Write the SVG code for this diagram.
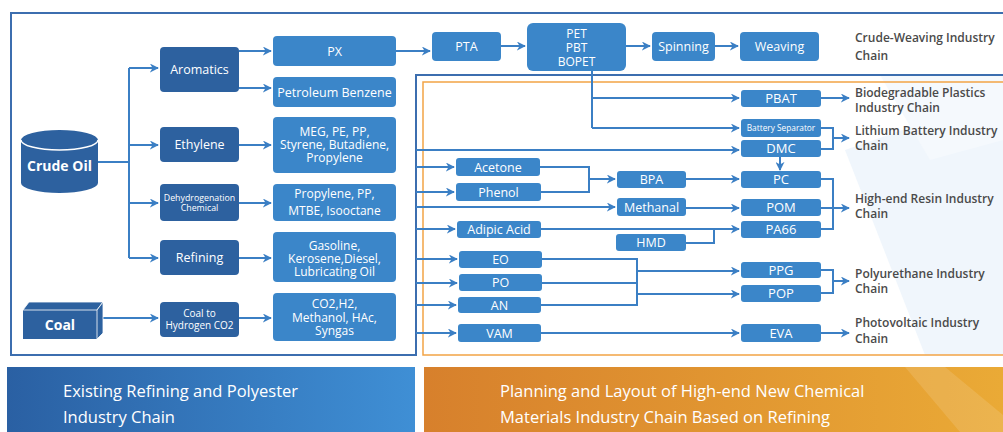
<svg xmlns="http://www.w3.org/2000/svg" width="1003" height="432" viewBox="0 0 1003 432">
<defs>
<marker id="ah" viewBox="0 0 10 10" refX="9" refY="5" markerWidth="9" markerHeight="9" markerUnits="userSpaceOnUse" orient="auto"><path d="M0,0 L10,5 L0,10 L3,5 z" fill="#3b7fc4"/></marker>
<linearGradient id="gb" x1="0" y1="0" x2="1" y2="0"><stop offset="0" stop-color="#2a60a3"/><stop offset="1" stop-color="#3f8fd5"/></linearGradient>
<linearGradient id="go" x1="0" y1="0" x2="1" y2="0"><stop offset="0" stop-color="#d7802c"/><stop offset="1" stop-color="#eaaa36"/></linearGradient>
<style>
.dk{fill:#2d619f}
.lt{fill:#3b86c9}
.t{font-family:"Open Sans","Noto Sans",sans-serif;fill:#fff;text-anchor:middle;font-size:12.5px}
.tm{font-family:"Open Sans","Noto Sans",sans-serif;fill:#fff;text-anchor:middle;font-size:12px}
.ts{font-family:"Open Sans","Noto Sans",sans-serif;fill:#fff;text-anchor:middle;font-size:8.8px}
.tb{font-family:"Open Sans","Noto Sans",sans-serif;fill:#fff;text-anchor:middle;font-size:14px;font-weight:bold}
.lb{font-family:"Open Sans","Noto Sans",sans-serif;fill:#4a4a4a;font-size:12px;font-weight:600}
.bt{font-family:"Open Sans","Noto Sans",sans-serif;fill:#fff;font-size:16.5px}
.c{fill:none;stroke:#3b7fc4;stroke-width:2}
.a{marker-end:url(#ah)}
</style>
</defs>
<rect width="1003" height="432" fill="#fff"/>
<polygon points="845,150 1003,95 1003,355 925,355" fill="#f0f6fc"/>
<polygon points="880,75 1003,75 1003,140 930,160" fill="#f5f9fd"/>

<g id="borders">
<path d="M1003,13 H11 V355 H416 V75 H1003" fill="none" stroke="#3c6eaf" stroke-width="2"/>
<path d="M1003,82 H423 V355 H1003" fill="none" stroke="#f2a446" stroke-width="1.5"/>
</g>

<g id="connectors">
<path class="c" d="M98,162 H129 M129,68 V258"/>
<path class="c a" d="M129,68 H158"/>
<path class="c a" d="M129,145 H158"/>
<path class="c a" d="M129,203 H158"/>
<path class="c a" d="M129,258 H158"/>
<path class="c a" d="M239,51 H271"/>
<path class="c a" d="M239,88 H271"/>
<path class="c a" d="M239,145 H271"/>
<path class="c a" d="M239,203 H271"/>
<path class="c a" d="M239,258 H271"/>
<path class="c a" d="M103,318 H158"/>
<path class="c a" d="M239,318 H271"/>
<path class="c a" d="M396,51 H430"/>
<path class="c a" d="M501,46 H525"/>
<path class="c a" d="M626,46 H650"/>
<path class="c a" d="M715,46 H738"/>
<path class="c" d="M592,71 V128"/>
<path class="c a" d="M592,98 H739"/>
<path class="c a" d="M592,128 H739"/>
<path class="c a" d="M416,150 H739"/>
<path class="c a" d="M416,167 H454"/>
<path class="c a" d="M416,192 H454"/>
<path class="c a" d="M416,207 H615"/>
<path class="c a" d="M416,229 H455"/>
<path class="c a" d="M416,259 H457"/>
<path class="c a" d="M416,283 H457"/>
<path class="c a" d="M416,305 H456"/>
<path class="c a" d="M416,333 H456"/>
<path class="c" d="M540,167 H589 V192 H541"/>
<path class="c a" d="M589,179 H615"/>
<path class="c a" d="M686,179 H739"/>
<path class="c a" d="M686,208 H739"/>
<path class="c a" d="M541,229 H739"/>
<path class="c" d="M686,243 H714 V229"/>
<path class="c" d="M542,259 H637 V305 H541 M542,283 H637"/>
<path class="c a" d="M637,271 H739"/>
<path class="c a" d="M637,294 H739"/>
<path class="c a" d="M541,333 H739"/>
<path class="c a" d="M780,157 V170"/>
<path class="c a" d="M821,98 H849"/>
<path class="c" d="M821,128 H833 V149 H821"/>
<path class="c a" d="M833,138 H849"/>
<path class="c" d="M821,179 H833 V229 H821"/>
<path class="c a" d="M821,208 H849"/>
<path class="c" d="M821,270 H833 V293 H821"/>
<path class="c a" d="M833,281 H849"/>
<path class="c a" d="M821,333 H849"/>
</g>

<g id="crude-oil">
<path class="dk" d="M21,140 A38.5,10 0 0 1 98,140 L98,183 A38.5,10 0 0 1 21,183 Z"/>
<path d="M21,140 A38.5,10 0 0 0 98,140" fill="none" stroke="#fff" stroke-width="1.5"/>
<text class="tb" x="59.5" y="171">Crude Oil</text>
</g>
<g id="coal">
<rect class="dk" x="23" y="310" width="74" height="29"/>
<polygon class="dk" points="23,310 29,302 103,302 97,310" stroke="#fff" stroke-width="0.8"/>
<polygon class="dk" points="97,310 103,302 103,333 97,339" stroke="#fff" stroke-width="0.8"/>
<text class="tb" x="60" y="330">Coal</text>
</g>

<g id="aromatics"><rect class="dk" x="160" y="47" width="79" height="45" rx="4"/><text class="t" x="199.5" y="74">Aromatics</text></g>
<g id="ethylene"><rect class="dk" x="160" y="127" width="79" height="35" rx="4"/><text class="t" x="199.5" y="149">Ethylene</text></g>
<g id="dehydrogenation"><rect class="dk" x="160" y="184" width="79" height="37" rx="4"/><text class="ts" x="199.5" y="201">Dehydrogenation</text><text class="ts" x="199.5" y="211">Chemical</text></g>
<g id="coal-to-hydrogen"><rect class="dk" x="160" y="302" width="79" height="35" rx="4"/><text class="ts" x="199.5" y="316.5" style="font-size:10px">Coal to</text><text class="ts" x="199.5" y="328.5" style="font-size:10px">Hydrogen  CO2</text></g>
<g id="refining"><rect class="dk" x="160" y="240" width="79" height="35" rx="4"/><text class="t" x="199.5" y="262">Refining</text></g>

<g id="px"><rect class="lt" x="273" y="36" width="123" height="30" rx="4"/><text class="t" x="334.5" y="55.5">PX</text></g>
<g id="petroleum-benzene"><rect class="lt" x="273" y="77" width="123" height="30" rx="4"/><text class="t" x="334.5" y="96.5">Petroleum Benzene</text></g>
<g id="meg"><rect class="lt" x="273" y="117" width="123" height="56" rx="4"/><text class="tm" x="334.5" y="136">MEG, PE, PP,</text><text class="tm" x="334.5" y="149">Styrene, Butadiene,</text><text class="tm" x="334.5" y="162">Propylene</text></g>
<g id="propylene"><rect class="lt" x="273" y="184" width="123" height="37" rx="4"/><text class="tm" x="334.5" y="197.5">Propylene, PP,</text><text class="tm" x="334.5" y="214.5">MTBE, Isooctane</text></g>
<g id="gasoline"><rect class="lt" x="273" y="232" width="123" height="50" rx="4"/><text class="tm" x="334.5" y="250">Gasoline,</text><text class="tm" x="334.5" y="263">Kerosene,Diesel,</text><text class="tm" x="334.5" y="276">Lubricating Oil</text></g>
<g id="co2"><rect class="lt" x="273" y="293" width="123" height="48" rx="4"/><text class="tm" x="334.5" y="308">CO2,H2,</text><text class="tm" x="334.5" y="321.5">Methanol, HAc,</text><text class="tm" x="334.5" y="335">Syngas</text></g>

<g id="pta"><rect class="lt" x="432" y="32" width="69" height="29" rx="4"/><text class="t" x="466.5" y="51">PTA</text></g>
<g id="pet"><rect class="lt" x="527" y="23" width="99" height="48" rx="6"/><text class="tm" x="576.5" y="37.5">PET</text><text class="tm" x="576.5" y="52">PBT</text><text class="tm" x="576.5" y="66">BOPET</text></g>
<g id="spinning"><rect class="lt" x="652" y="32" width="63" height="29" rx="4"/><text class="t" x="683.5" y="51">Spinning</text></g>
<g id="weaving"><rect class="lt" x="740" y="32" width="79" height="29" rx="4"/><text class="t" x="779.5" y="51">Weaving</text></g>

<g id="pbat"><rect class="lt" x="741" y="90" width="80" height="17" rx="3"/><text class="t" x="781" y="103" style="font-size:13px">PBAT</text></g>
<g id="battery-separator"><rect class="lt" x="741" y="119" width="80" height="18" rx="3"/><text class="ts" x="781" y="131" style="font-size:8.3px">Battery Separator</text></g>
<g id="dmc"><rect class="lt" x="741" y="140" width="80" height="17" rx="3"/><text class="t" x="781" y="153" style="font-size:13px">DMC</text></g>
<g id="pc"><rect class="lt" x="741" y="171" width="80" height="17" rx="3"/><text class="t" x="781" y="184" style="font-size:13px">PC</text></g>
<g id="pom"><rect class="lt" x="741" y="199" width="80" height="17" rx="3"/><text class="t" x="781" y="212" style="font-size:13px">POM</text></g>
<g id="pa66"><rect class="lt" x="741" y="221" width="80" height="17" rx="3"/><text class="t" x="781" y="234" style="font-size:13px">PA66</text></g>
<g id="ppg"><rect class="lt" x="741" y="262" width="80" height="16" rx="3"/><text class="t" x="781" y="275" style="font-size:13px">PPG</text></g>
<g id="pop"><rect class="lt" x="741" y="285" width="80" height="17" rx="3"/><text class="t" x="781" y="298" style="font-size:13px">POP</text></g>
<g id="eva"><rect class="lt" x="741" y="324" width="80" height="18" rx="3"/><text class="t" x="781" y="337.5" style="font-size:13px">EVA</text></g>

<g id="acetone"><rect class="lt" x="456" y="158" width="84" height="18" rx="3"/><text class="t" x="498" y="171.5">Acetone</text></g>
<g id="phenol"><rect class="lt" x="456" y="183" width="85" height="18" rx="3"/><text class="t" x="498.5" y="196.5">Phenol</text></g>
<g id="adipic-acid"><rect class="lt" x="457" y="221" width="84" height="17" rx="3"/><text class="t" x="499" y="234">Adipic Acid</text></g>
<g id="eo"><rect class="lt" x="459" y="251" width="83" height="17" rx="3"/><text class="t" x="500.5" y="264">EO</text></g>
<g id="po"><rect class="lt" x="459" y="274" width="83" height="17" rx="3"/><text class="t" x="500.5" y="287">PO</text></g>
<g id="an"><rect class="lt" x="458" y="297" width="83" height="16" rx="3"/><text class="t" x="499.5" y="309.5">AN</text></g>
<g id="vam"><rect class="lt" x="458" y="324" width="83" height="18" rx="3"/><text class="t" x="499.5" y="337.5">VAM</text></g>
<g id="bpa"><rect class="lt" x="617" y="171" width="69" height="17" rx="3"/><text class="t" x="651.5" y="184">BPA</text></g>
<g id="methanal"><rect class="lt" x="617" y="198" width="69" height="18" rx="3"/><text class="t" x="651.5" y="211.5">Methanal</text></g>
<g id="hmd"><rect class="lt" x="616" y="234" width="70" height="17" rx="3"/><text class="t" x="651" y="247">HMD</text></g>

<g id="labels">
<text class="lb" x="855" y="42">Crude-Weaving Industry</text><text class="lb" x="855" y="60">Chain</text>
<text class="lb" x="855" y="97">Biodegradable Plastics</text><text class="lb" x="855" y="112">Industry Chain</text>
<text class="lb" x="855" y="135">Lithium Battery Industry</text><text class="lb" x="855" y="150">Chain</text>
<text class="lb" x="855" y="203">High-end Resin Industry</text><text class="lb" x="855" y="218">Chain</text>
<text class="lb" x="855" y="278">Polyurethane Industry</text><text class="lb" x="855" y="293">Chain</text>
<text class="lb" x="855" y="327">Photovoltaic Industry</text><text class="lb" x="855" y="343">Chain</text>
</g>

<g id="bar-existing">
<rect x="7" y="367" width="408" height="65" fill="url(#gb)"/>
<text class="bt" x="63" y="397">Existing Refining and Polyester</text>
<text class="bt" x="63" y="423">Industry Chain</text>
</g>
<g id="bar-planning">
<rect x="424" y="367" width="579" height="65" fill="url(#go)"/>
<polygon points="905,367 945,367 1003,415 1003,432 960,432" fill="#fff" opacity="0.12"/>
<text class="bt" x="500" y="397">Planning and Layout of High-end New Chemical</text>
<text class="bt" x="500" y="423">Materials Industry Chain Based on Refining</text>
</g>
</svg>
